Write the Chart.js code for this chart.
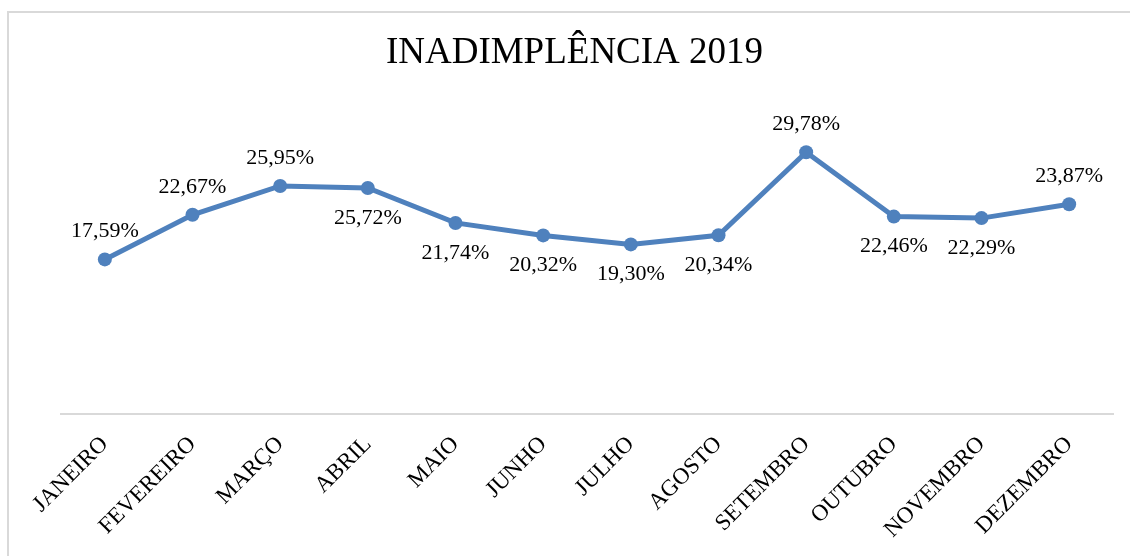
<!DOCTYPE html>
<html>
<head>
<meta charset="utf-8">
<script src="https://cdn.jsdelivr.net/npm/chart.js@4"></script>
<style>
  body { margin: 0; background: #fff; }
  .wrap { position: relative; width: 1130px; height: 556px; overflow: hidden; }
  .frame { position: absolute; left: 7px; top: 11px; width: 1200px; height: 600px; border: 2px solid #d9d9d9; box-sizing: border-box; }
  canvas { position: absolute; left: 0; top: 0; }
</style>
</head>
<body>
<div class="wrap">
  <div class="frame"></div>
  <canvas id="inadChart" width="1130" height="556"></canvas>
</div>
<script>
const meses = ['JANEIRO', 'FEVEREIRO', 'MARÇO', 'ABRIL', 'MAIO', 'JUNHO', 'JULHO', 'AGOSTO', 'SETEMBRO', 'OUTUBRO', 'NOVEMBRO', 'DEZEMBRO'];
const inadimplencia = [17.59, 22.67, 25.95, 25.72, 21.74, 20.32, 19.30, 20.34, 29.78, 22.46, 22.29, 23.87];
// where each value label sits relative to its point
const labelPos = ['above', 'above', 'above', 'below', 'below', 'below', 'below', 'below', 'above', 'below', 'below', 'above'];

const serif = '"Liberation Serif", "Times New Roman", serif';

const valueLabels = {
  id: 'valueLabels',
  afterDatasetsDraw(chart) {
    const ctx = chart.ctx;
    const meta = chart.getDatasetMeta(0);
    ctx.save();
    ctx.font = '22px ' + serif;
    ctx.fillStyle = '#000';
    ctx.textAlign = 'center';
    ctx.textBaseline = 'middle';
    meta.data.forEach(function(pt, i) {
      const txt = inadimplencia[i].toFixed(2).replace('.', ',') + '%';
      const dy = labelPos[i] === 'above' ? -28 : 30;
      ctx.fillText(txt, pt.x, pt.y + dy);
    });
    ctx.restore();
  }
};

const ctx = document.getElementById('inadChart').getContext('2d');
const inadChart = new Chart(ctx, {
  type: 'line',
  data: {
    labels: meses,
    datasets: [{
      data: inadimplencia,
      borderColor: '#4f81bd',
      backgroundColor: '#4f81bd',
      borderWidth: 5,
      pointRadius: 7,
      pointBackgroundColor: '#4f81bd',
      pointBorderWidth: 0,
      tension: 0
    }]
  },
  options: {
    responsive: false,
    animation: false,
    layout: { padding: { left: 36, right: 17, top: 0, bottom: 0 } },
    plugins: {
      legend: { display: false },
      tooltip: { enabled: false },
      title: {
        display: true,
        text: 'INADIMPLÊNCIA 2019',
        color: '#000',
        font: { family: serif, size: 37, weight: 'normal' },
        padding: { top: 31, bottom: 31 }
      }
    },
    scales: {
      x: {
        offset: true,
        grid: { display: false, drawTicks: false },
        border: { display: true, color: '#d9d9d9', width: 2 },
        ticks: {
          color: '#000',
          font: { family: serif, size: 23 },
          minRotation: 45,
          maxRotation: 45,
          padding: 17,
          autoSkip: false
        },
        afterFit: function(scale) {
          scale.paddingLeft = 0;
          scale.paddingRight = 0;
          scale.height = 142;
        }
      },
      y: {
        min: 0,
        max: 35,
        grid: { display: false, drawTicks: false },
        border: { display: false },
        ticks: { display: false },
        afterFit: function(scale) {
          scale.width = 25;
        }
      }
    }
  },
  plugins: [valueLabels]
});
</script>
</body>
</html>
